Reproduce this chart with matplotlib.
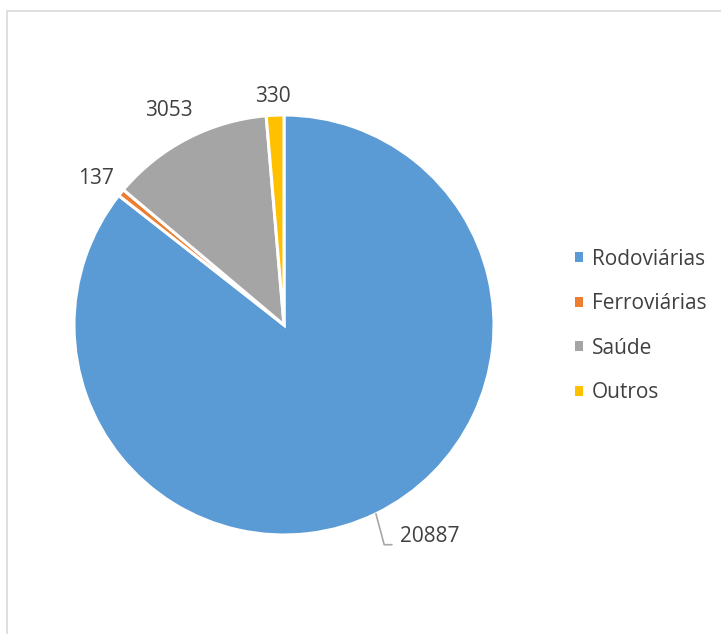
import numpy as np
import matplotlib.pyplot as plt
from matplotlib.patches import Rectangle, Patch

categories = ['Rodoviárias', 'Ferroviárias', 'Saúde', 'Outros']
values = [20887, 137, 3053, 330]
colors = ['#5B9BD5', '#ED7D31', '#A5A5A5', '#FFC000']

plt.rcParams['font.family'] = ['Open Sans', 'DejaVu Sans']
txt_color = '#404040'
fs = 15

W, H = 721, 634
fig = plt.figure(figsize=(W / 100, H / 100), dpi=100)

# pie centre / radius in pixels
cx, cy, r = 284, 325, 210
lim = 1.25
side = 2 * lim * r
ax = fig.add_axes([(cx - side / 2) / W, (H - cy - side / 2) / H, side / W, side / H])

wedges, _ = ax.pie(values, colors=colors, startangle=90, counterclock=False,
                   radius=1, wedgeprops=dict(edgecolor='white', linewidth=2.2))
ax.set_xlim(-lim, lim)
ax.set_ylim(-lim, lim)
ax.set_aspect('equal')
ax.axis('off')

label_dist = [None, 1.145, 1.175, 1.11]
for w, v, d in zip(wedges, values, label_dist):
    ang = np.deg2rad((w.theta1 + w.theta2) / 2)
    if d is None:
        # big slice: label with leader line
        ax.annotate(str(v), xy=(np.cos(ang), np.sin(ang)), xytext=(17.5, -16.5),
                    textcoords='offset points', ha='left', va='center',
                    fontsize=fs, color=txt_color,
                    arrowprops=dict(arrowstyle='-', color='#A6A6A6', lw=1.2,
                                    shrinkA=4, shrinkB=0, relpos=(0, 0.12),
                                    connectionstyle='angle,angleA=0,angleB=105,rad=0'))
    else:
        ax.annotate(str(v), xy=(d * np.cos(ang), d * np.sin(ang)), xytext=(-1, -3.5),
                    textcoords='offset points', ha='center', va='center',
                    fontsize=fs, color=txt_color)

handles = [Patch(facecolor=c, edgecolor='none') for c in colors]
leg = fig.legend(handles, categories, loc='center left',
                 bbox_to_anchor=(566.5 / W, 1 - 326 / H), frameon=False,
                 borderaxespad=0, fontsize=fs, handlelength=0.38,
                 handleheight=0.38, handletextpad=0.43, labelspacing=1.13)
for t in leg.get_texts():
    t.set_color(txt_color)

# chart area border (clipped at right/bottom like the original)
fig.patches.append(Rectangle((6.5 / W, -0.1), 2, (H - 10.5) / H + 0.1,
                             transform=fig.transFigure, fill=False,
                             edgecolor='#D9D9D9', lw=1.2))

fig.savefig('out.png', dpi=100)
